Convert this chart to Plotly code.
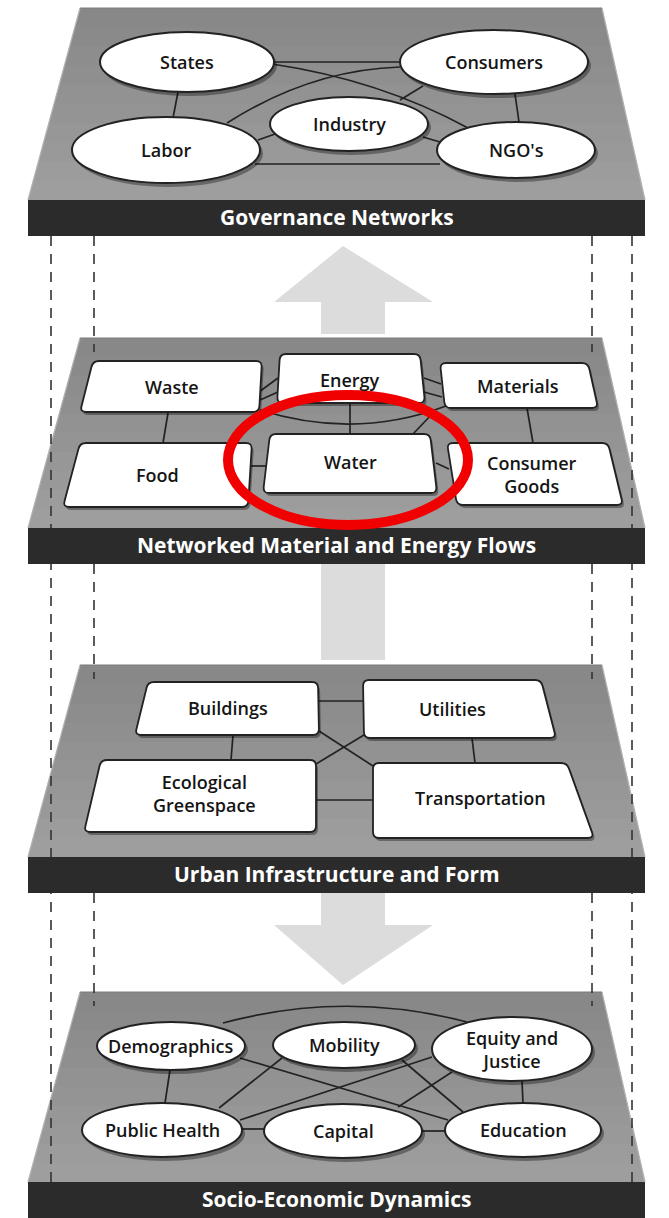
import plotly.graph_objects as go

W, H = 669, 1218

# ---------------- content ----------------
layer_titles = ["Governance Networks", "Networked Material and Energy Flows",
                "Urban Infrastructure and Form", "Socio-Economic Dynamics"]
governance_nodes = ["States", "Consumers", "Industry", "Labor", "NGO's"]
flow_nodes = ["Waste", "Energy", "Materials", "Food", "Water", "Consumer<br>Goods"]
infrastructure_nodes = ["Buildings", "Utilities", "Ecological<br>Greenspace", "Transportation"]
socio_nodes = ["Demographics", "Mobility", "Equity and<br>Justice", "Public Health", "Capital", "Education"]
highlighted_node = "Water"

# ---------------- layout geometry (pixels) ----------------
face_tops = [8, 338, 665, 992]
band_tops = [200, 528, 857, 1182]
band_h = 36
face_top_x = (80, 602)
face_bot_x = (28, 645)

gov_ellipses = [(187, 62, 87, 30), (494, 62, 94, 32), (349, 124, 79, 27),
                (166, 150, 94, 33), (516, 150, 79, 28)]
gov_links = ["M275,62 L400,62", "M272,64 Q380,80 468,128", "M227,123 Q310,70 400,67",
             "M400,100 L423,86", "M258,140 L275,134", "M423,137 L440,142",
             "M178,92 L173,118", "M515,94 L519,122", "M255,164 L440,164"]

flow_boxes = [[(93, 361), (262, 361), (259, 412), (80, 412)],
              [(280, 354), (420, 354), (425, 403), (277, 403)],
              [(440, 363), (588, 363), (598, 408), (445, 408)],
              [(80, 443), (252, 443), (248, 507), (63, 507)],
              [(270, 434), (430, 434), (437, 493), (263, 493)],
              [(447, 443), (608, 443), (623, 505), (457, 505)]]
flow_label_xy = [(172, 387), (350, 380), (518, 386), (157, 475), (350, 462), (532, 474)]
flow_links = ["M168,413 L163,443", "M259,392 L278,378", "M260,400 L278,392",
              "M424,378 L441,384", "M424,392 L442,397", "M260,410 Q355,440 446,406",
              "M350,403 L350,434", "M413,434 L434,412", "M251,466 L266,466",
              "M436,463 L449,469", "M527,408 L533,443"]
highlight_box = (228, 395, 468, 525)

infra_boxes = [[(148, 682), (318, 682), (319, 735), (135, 735)],
               [(363, 680), (541, 680), (556, 738), (364, 738)],
               [(101, 760), (316, 760), (316, 832), (84, 832)],
               [(373, 763), (567, 763), (594, 838), (373, 838)]]
infra_label_xy = [(228, 708), (452, 709), (204, 793), (480, 798)]
infra_links = ["M318,701 L363,701", "M233,735 L231,760", "M472,738 L475,763",
               "M319,731 L373,766", "M364,735 L316,764", "M316,800 L373,800"]

socio_ellipses = [(171, 1046, 74, 24), (344, 1045, 71, 23), (512, 1049, 80, 32),
                  (162, 1130, 80, 27), (343, 1131, 79, 27), (523, 1130, 78, 27)]
socio_links = ["M223,1023 Q345,990 467,1022", "M170,1070 L165,1103", "M522,1081 L523,1103",
               "M282,1058 L219,1108", "M240,1058 L448,1120", "M240,1120 L432,1057",
               "M402,1060 L463,1112", "M452,1072 L398,1107", "M241,1129 L265,1129",
               "M421,1131 L446,1131"]

arrow_up = [(343, 246), (433, 302), (385, 302), (385, 334), (321, 334), (321, 302), (274, 302)]
shaft_mid = [(321, 564), (385, 564), (385, 660), (321, 660)]
arrow_down = [(321, 893), (385, 893), (385, 925), (433, 925), (343, 985), (274, 925), (321, 925)]

dash_outer_x = [51, 632]
dash_inner_x = [94, 592]

# ---------------- styles ----------------
LINE = "#222222"
BAND = "#2b2b2b"
ARROW = "#dcdcdc"
FONT = "Open Sans"
TEXT = "#151515"

shapes = []
annotations = []


def poly(pts):
    return "M" + " L".join(f"{x},{y}" for x, y in pts) + " Z"


def toward(p, q, r):
    dx, dy = q[0] - p[0], q[1] - p[1]
    d = (dx * dx + dy * dy) ** 0.5
    r = min(r, d / 2)
    return (p[0] + dx / d * r, p[1] + dy / d * r)


def rpoly(pts, r=6, dx=0, dy=0):
    pts = [(x + dx, y + dy) for x, y in pts]
    n = len(pts)
    s = ""
    for i in range(n):
        p0, p1, p2 = pts[i - 1], pts[i], pts[(i + 1) % n]
        a = toward(p1, p0, r)
        b = toward(p1, p2, r)
        s += ("M" if i == 0 else " L") + f"{a[0]:.1f},{a[1]:.1f} Q{p1[0]},{p1[1]} {b[0]:.1f},{b[1]:.1f}"
    return s + " Z"


def lerp_hex(c1, c2, t):
    a = [int(c1[i:i + 2], 16) for i in (1, 3, 5)]
    b = [int(c2[i:i + 2], 16) for i in (1, 3, 5)]
    return "#" + "".join(f"{round(a[k] + (b[k] - a[k]) * t):02x}" for k in range(3))


# faces with vertical gradient
for top, bt in zip(face_tops, band_tops):
    n = 10
    for i in range(n):
        y = top + (bt - top) * i / n
        f = (y - top) / (bt - top)
        xl = face_top_x[0] + (face_bot_x[0] - face_top_x[0]) * f
        xr = face_top_x[1] + (face_bot_x[1] - face_top_x[1]) * f
        col = lerp_hex("#888888", "#9e9e9e", i / (n - 1))
        shapes.append(dict(type="path", path=poly([(xl, y), (xr, y), (face_bot_x[1], bt + 1), (face_bot_x[0], bt + 1)]),
                           fillcolor=col, line=dict(width=0)))
    shapes.append(dict(type="path", path=f"M{face_top_x[0]},{top} L{face_bot_x[0]},{bt}",
                       line=dict(color="#b4b4b4", width=1.2)))
    shapes.append(dict(type="path", path=f"M{face_top_x[1]},{top} L{face_bot_x[1]},{bt}",
                       line=dict(color="#b4b4b4", width=1.2)))
    shapes.append(dict(type="path", path=f"M{face_top_x[0]},{top} L{face_top_x[1]},{top}",
                       line=dict(color="#7a7a7a", width=1)))

# dashed guide lines
for x in dash_outer_x:
    shapes.append(dict(type="line", x0=x, x1=x, y0=band_tops[0] + band_h, y1=band_tops[3],
                       line=dict(color="#333333", width=1.6, dash="10px,8px")))
for x in dash_inner_x:
    for k in range(3):
        shapes.append(dict(type="line", x0=x, x1=x, y0=band_tops[k] + band_h, y1=face_tops[k + 1] + 14,
                           line=dict(color="#333333", width=1.6, dash="10px,8px")))

# bands
for bt, title in zip(band_tops, layer_titles):
    shapes.append(dict(type="rect", x0=face_bot_x[0], x1=face_bot_x[1], y0=bt, y1=bt + band_h,
                       fillcolor=BAND, line=dict(width=0)))
    annotations.append(dict(x=(face_bot_x[0] + face_bot_x[1]) / 2, y=bt + band_h / 2 - 1, text=title,
                            showarrow=False, font=dict(family=FONT, size=21, color="white", weight=700),
                            xanchor="center", yanchor="middle"))

# arrows
for a in (arrow_up, shaft_mid, arrow_down):
    shapes.append(dict(type="path", path=poly(a), fillcolor=ARROW, line=dict(width=0)))

# links
for p in gov_links + flow_links + infra_links + socio_links:
    shapes.append(dict(type="path", path=p, line=dict(color=LINE, width=1.7)))


def add_ellipses(ells, labels):
    for (cx, cy, rx, ry), lab in zip(ells, labels):
        shapes.append(dict(type="circle", x0=cx - rx + 2, x1=cx + rx + 3, y0=cy - ry + 3, y1=cy + ry + 4,
                           fillcolor="rgba(0,0,0,0.35)", line=dict(width=0)))
        shapes.append(dict(type="circle", x0=cx - rx, x1=cx + rx, y0=cy - ry, y1=cy + ry,
                           fillcolor="white", line=dict(color=LINE, width=2)))
        annotations.append(dict(x=cx, y=cy, text=lab, showarrow=False,
                                font=dict(family=FONT, size=18, color=TEXT, weight=600)))


def add_boxes(boxes, labels, xy):
    for pts, lab, (tx, ty) in zip(boxes, labels, xy):
        shapes.append(dict(type="path", path=rpoly(pts, 6, 2, 3),
                           fillcolor="rgba(0,0,0,0.35)", line=dict(width=0)))
        shapes.append(dict(type="path", path=rpoly(pts, 6),
                           fillcolor="white", line=dict(color=LINE, width=1.8)))
        annotations.append(dict(x=tx, y=ty, text=lab, showarrow=False,
                                font=dict(family=FONT, size=18, color=TEXT, weight=600)))


add_ellipses(gov_ellipses, governance_nodes)
add_boxes(flow_boxes, flow_nodes, flow_label_xy)
add_boxes(infra_boxes, infrastructure_nodes, infra_label_xy)
add_ellipses(socio_ellipses, socio_nodes)

# red highlight around the Water node
hx0, hy0, hx1, hy1 = highlight_box
shapes.append(dict(type="circle", x0=hx0, x1=hx1, y0=hy0, y1=hy1,
                   fillcolor="rgba(0,0,0,0)", line=dict(color="#f00000", width=10)))

fig = go.Figure()
fig.update_layout(
    width=W, height=H, margin=dict(l=0, r=0, t=0, b=0),
    paper_bgcolor="white", plot_bgcolor="white",
    xaxis=dict(range=[0, W], visible=False, fixedrange=True),
    yaxis=dict(range=[H, 0], visible=False, fixedrange=True),
    shapes=shapes, annotations=annotations, showlegend=False,
)
fig.write_html("out.html", config={"displayModeBar": False},
               post_script="document.body.style.margin='0';document.body.style.overflow='hidden';")
